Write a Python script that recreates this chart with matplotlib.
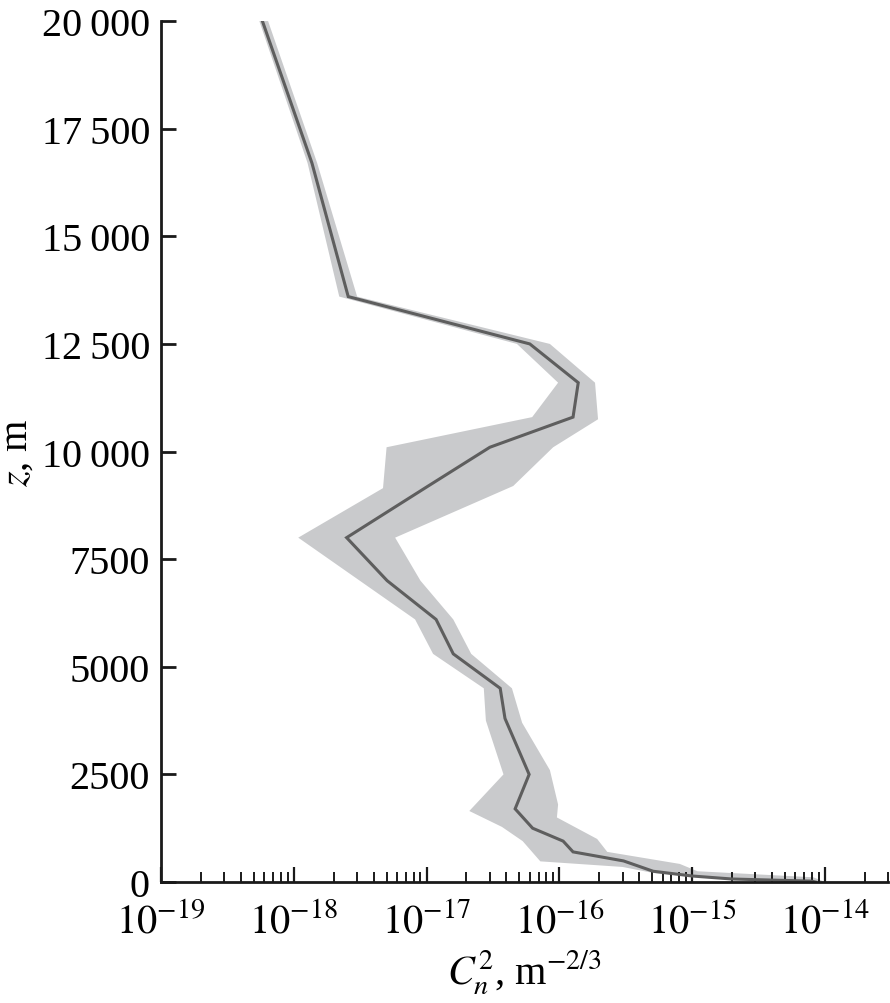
import numpy as np
import matplotlib
matplotlib.use("Agg")
import matplotlib.pyplot as plt
from matplotlib.ticker import FixedLocator, FixedFormatter, LogLocator, NullFormatter

plt.rcParams["font.family"] = ["Liberation Serif", "DejaVu Serif"]
plt.rcParams["mathtext.fontset"] = "stix"
plt.rcParams["font.size"] = 29

# mean profile of Cn^2 (height in m, value in m^-2/3)
z_mean = [20000, 16700, 13600, 12500, 11600, 10800, 10100, 9200, 8000, 7000,
          6100, 5300, 4500, 3800, 2500, 1700, 1250, 950, 700, 490, 250, 140,
          70, 20, 0]
cn2_mean = [5.8e-19, 1.37e-18, 2.57e-18, 6.0e-17, 1.39e-16, 1.27e-16, 3.0e-17,
            1.03e-17, 2.5e-18, 5.05e-18, 1.18e-17, 1.59e-17, 3.59e-17, 3.9e-17,
            5.93e-17, 4.65e-17, 6.3e-17, 1.07e-16, 1.27e-16, 3.05e-16, 5.1e-16,
            1.0e-15, 2.0e-15, 8.0e-15, 8.5e-15]

# lower edge of the spread
z_low = [20000, 16700, 13600, 12500, 11600, 10800, 10100, 9150, 8000, 6100,
         5300, 4500, 3750, 2500, 1650, 1280, 950, 480, 350, 210, 120, 50, 20, 0]
cn2_low = [5.5e-19, 1.27e-18, 2.2e-18, 4.8e-17, 9.8e-17, 6.25e-17, 5.0e-18,
           4.7e-18, 1.08e-18, 8.2e-18, 1.12e-17, 2.7e-17, 2.8e-17, 3.8e-17,
           2.1e-17, 3.7e-17, 5.3e-17, 7.2e-17, 3.0e-16, 5.1e-16, 1.0e-15,
           2.0e-15, 6.0e-15, 8.0e-15]

# upper edge of the spread
z_high = [20000, 16700, 13600, 12500, 11600, 10750, 10100, 9200, 8000, 7000,
          6100, 5300, 4500, 3700, 2600, 1800, 1500, 1000, 700, 420, 250, 110,
          20, 0]
cn2_high = [6.4e-19, 1.5e-18, 3.0e-18, 8.5e-17, 1.86e-16, 1.96e-16, 9.0e-17,
            4.5e-17, 5.8e-18, 9.0e-18, 1.59e-17, 2.17e-17, 4.4e-17, 5.25e-17,
            8.5e-17, 9.8e-17, 9.6e-17, 1.93e-16, 2.3e-16, 8.1e-16, 1.1e-15,
            8.2e-15, 9.7e-15, 9.5e-15]

xtick_vals = [1e-19, 1e-18, 1e-17, 1e-16, 1e-15, 1e-14]
xtick_text = [r"$10^{-19}$", r"$10^{-18}$", r"$10^{-17}$", r"$10^{-16}$",
              r"$10^{-15}$", r"$10^{-14}$"]
ytick_vals = [0, 2500, 5000, 7500, 10000, 12500, 15000, 17500, 20000]
ytick_text = ["0", "2500", "5000", "7500", "10\u2009000", "12\u2009500",
              "15\u2009000", "17\u2009500", "20\u2009000"]

fig = plt.figure(figsize=(8.9, 10.04), dpi=100)
ax = fig.add_axes([0.181, 0.1205, 0.817, 0.8575])

ax.fill(np.r_[cn2_low, cn2_high[::-1]], np.r_[z_low, z_high[::-1]],
        color="#c9cacc", lw=0)
ax.plot(cn2_mean, z_mean, color="#5e5e5e", lw=2.2, solid_joinstyle="miter")

ax.set_xscale("log")
ax.set_xlim(1e-19, 10 ** (-19 + 727 / 132.7))
ax.set_ylim(0, 20000)

ax.xaxis.set_major_locator(FixedLocator(xtick_vals))
ax.xaxis.set_major_formatter(FixedFormatter(xtick_text))
ax.xaxis.set_minor_locator(LogLocator(base=10, subs=np.arange(2, 10), numticks=20))
ax.xaxis.set_minor_formatter(NullFormatter())
ax.yaxis.set_major_locator(FixedLocator(ytick_vals))
ax.yaxis.set_major_formatter(FixedFormatter(ytick_text))

for s in ["top", "right"]:
    ax.spines[s].set_visible(False)
for s in ["left", "bottom"]:
    ax.spines[s].set_linewidth(2.0)
    ax.spines[s].set_color("#1a1a1a")

ax.tick_params(axis="y", which="major", direction="in", length=11, width=2,
               pad=8, color="#1a1a1a")
ax.tick_params(axis="x", which="major", direction="in", length=11, width=1.6,
               pad=15, color="#1a1a1a")
ax.tick_params(axis="x", which="minor", direction="in", length=7, width=1.4,
               color="#1a1a1a")

ax.set_xlabel(r"$C_n^2$, m$^{-2/3}$", labelpad=4)
ax.set_ylabel(r"$z$, m", labelpad=4)

fig.savefig("out.png", dpi=100)
